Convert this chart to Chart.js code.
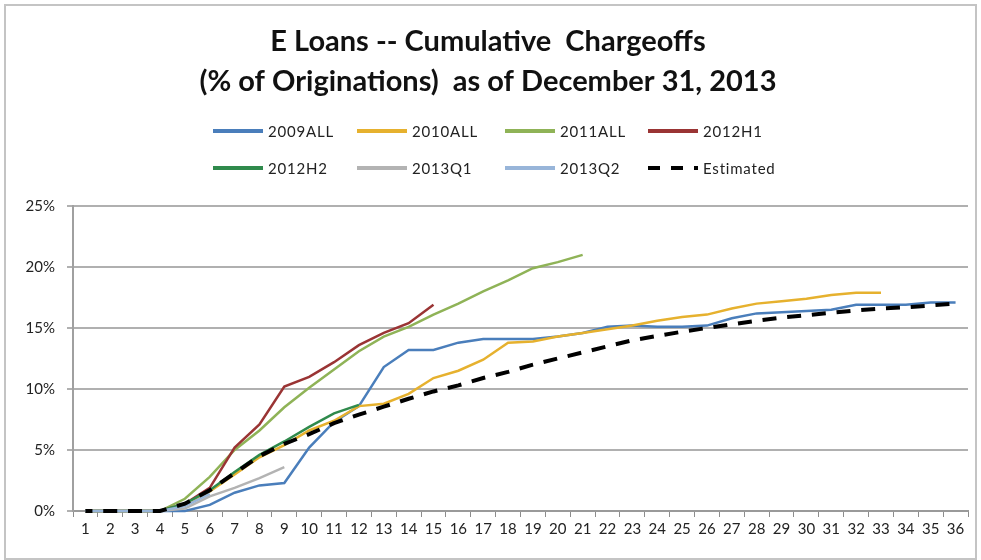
<!DOCTYPE html>
<html>
<head>
<meta charset="utf-8">
<script src="https://cdn.jsdelivr.net/npm/chart.js@4/dist/chart.umd.min.js"></script>
<style>
  body { margin: 0; background: #fff; }
  #wrap { width: 981px; height: 560px; }
</style>
</head>
<body>
<div id="wrap"><canvas id="lossChart" width="981" height="560"></canvas></div>
<script>
// months since origination
const months = ['1','2','3','4','5','6','7','8','9','10','11','12','13','14','15','16','17','18',
  '19','20','21','22','23','24','25','26','27','28','29','30','31','32','33','34','35','36'];

// cumulative chargeoffs, % of originations
const loans2009 = [0, 0, 0, 0, 0, 0.5, 1.5, 2.1, 2.3, 5.2, 7.3, 8.6, 11.8, 13.2, 13.2, 13.8, 14.1, 14.1,
  14.1, 14.3, 14.6, 15.1, 15.2, 15.1, 15.1, 15.2, 15.8, 16.2, 16.3, 16.4, 16.5, 16.9, 16.9, 16.9, 17.1, 17.1];
const loans2010 = [0, 0, 0, 0, 0.5, 1.6, 3.0, 4.4, 5.4, 6.6, 7.4, 8.6, 8.8, 9.6, 10.9, 11.5, 12.4, 13.8,
  13.9, 14.3, 14.6, 14.9, 15.2, 15.6, 15.9, 16.1, 16.6, 17.0, 17.2, 17.4, 17.7, 17.9, 17.9];
const loans2011 = [0, 0, 0, 0, 1.0, 2.8, 5.0, 6.6, 8.5, 10.1, 11.6, 13.1, 14.3, 15.1, 16.1, 17.0, 18.0, 18.9,
  19.9, 20.4, 21.0];
const loans2012H1 = [0, 0, 0, 0, 0.6, 1.9, 5.2, 7.1, 10.2, 11.0, 12.2, 13.6, 14.6, 15.4, 16.9];
const loans2012H2 = [0, 0, 0, 0, 0.6, 1.7, 3.2, 4.6, 5.7, 6.9, 8.0, 8.7];
const loans2013Q1 = [0, 0, 0, 0, 0.2, 1.2, 1.9, 2.7, 3.6];
const loans2013Q2 = [0, 0, 0, 0, 0.4, 1.4];
const estimated = [0, 0, 0, 0, 0.6, 1.7, 3.1, 4.5, 5.5, 6.3, 7.2, 7.9, 8.55, 9.2, 9.8, 10.3, 10.9, 11.4,
  12.0, 12.5, 13.0, 13.5, 14.0, 14.35, 14.7, 15.0, 15.3, 15.6, 15.85, 16.05, 16.25, 16.45, 16.6, 16.7, 16.85, 17.0];

const yTicks = [0, 5, 10, 15, 20, 25];

// later series sit on top, like excel
function series(label, data, color, idx, width, dash) {
  return {
    label: label,
    data: data,
    borderColor: color,
    backgroundColor: color,
    borderWidth: width,
    borderDash: dash || [],
    borderDashOffset: dash ? 7 : 0,
    order: 10 - idx,
    clip: 6,
    pointRadius: 0,
    tension: 0,
    fill: false
  };
}

// frame + white background
const framePlugin = {
  id: 'frame',
  beforeDraw(chart) {
    const ctx = chart.ctx;
    ctx.save();
    ctx.fillStyle = '#fff';
    ctx.fillRect(0, 0, chart.width, chart.height);
    ctx.strokeStyle = '#c4c4c4';
    ctx.lineWidth = 2;
    ctx.strokeRect(5, 5, chart.width - 10, chart.height - 6);
    ctx.restore();
  }
};

// Excel style legend, 4 columns x 2 rows
const legendPlugin = {
  id: 'xlLegend',
  afterDraw(chart) {
    const ctx = chart.ctx;
    const cols = [213, 357, 505, 648];
    const rows = [131, 168];
    ctx.save();
    ctx.font = '15px Lato';
    ctx.letterSpacing = '0.8px';
    ctx.textBaseline = 'middle';
    chart.data.datasets.forEach((ds, i) => {
      const x = cols[i % 4];
      const y = rows[Math.floor(i / 4)];
      ctx.strokeStyle = ds.borderColor;
      ctx.lineWidth = 4;
      ctx.setLineDash(ds.borderDash.length ? [12, 11] : []);
      ctx.beginPath();
      ctx.moveTo(x, y);
      ctx.lineTo(x + 50, y);
      ctx.stroke();
      ctx.setLineDash([]);
      ctx.fillStyle = '#222';
      ctx.fillText(ds.label, x + 55, y + 1);
    });
    ctx.restore();
  }
};

new Chart(document.getElementById('lossChart'), {
  type: 'line',
  data: {
    labels: months,
    datasets: [
      series('2009ALL', loans2009, '#4a7ebb', 0, 2.5),
      series('2010ALL', loans2010, '#e6b12e', 1, 2.5),
      series('2011ALL', loans2011, '#8fb357', 2, 2.5),
      series('2012H1', loans2012H1, '#9a3434', 3, 2.5),
      series('2012H2', loans2012H2, '#2f8a4c', 4, 2.5),
      series('2013Q1', loans2013Q1, '#b3b3b3', 5, 2.5),
      series('2013Q2', loans2013Q2, '#98b5d9', 6, 2.5),
      series('Estimated', estimated, '#000000', 7, 4, [14, 10.8])
    ]
  },
  plugins: [framePlugin, legendPlugin],
  options: {
    responsive: false,
    animation: false,
    layout: { padding: { left: 8, right: 13, top: 0, bottom: 14 } },
    plugins: {
      legend: { display: false },
      tooltip: { enabled: false },
      title: {
        display: true,
        text: ['E Loans -- Cumulative  Chargeoffs', '(% of Originations)  as of December 31, 2013'],
        color: '#111',
        font: { family: 'Lato', size: 29, weight: 'bold', lineHeight: 1.38 },
        padding: { top: 22, bottom: 104 }
      }
    },
    scales: {
      x: {
        offset: true,
        grid: { offset: true, drawOnChartArea: false, drawTicks: true, tickLength: 6, color: '#8c8c8c', lineWidth: 1 },
        border: { color: '#9a9a9a', width: 2 },
        ticks: { font: { family: 'Lato', size: 15 }, color: '#222', maxRotation: 0, autoSkip: false, padding: 3 },
        afterFit: s => { s.height = 35; }
      },
      y: {
        min: 0,
        max: 25,
        afterBuildTicks: s => { s.ticks = yTicks.map(v => ({ value: v })); },
        ticks: { callback: v => v + '%', font: { family: 'Lato', size: 15 }, color: '#222', padding: 12 },
        grid: { color: '#b0b0b0', lineWidth: 2, tickLength: 6 },
        border: { color: '#a0a0a0', width: 2 },
        afterFit: s => { s.width = 65; }
      }
    }
  }
});
</script>
</body>
</html>
